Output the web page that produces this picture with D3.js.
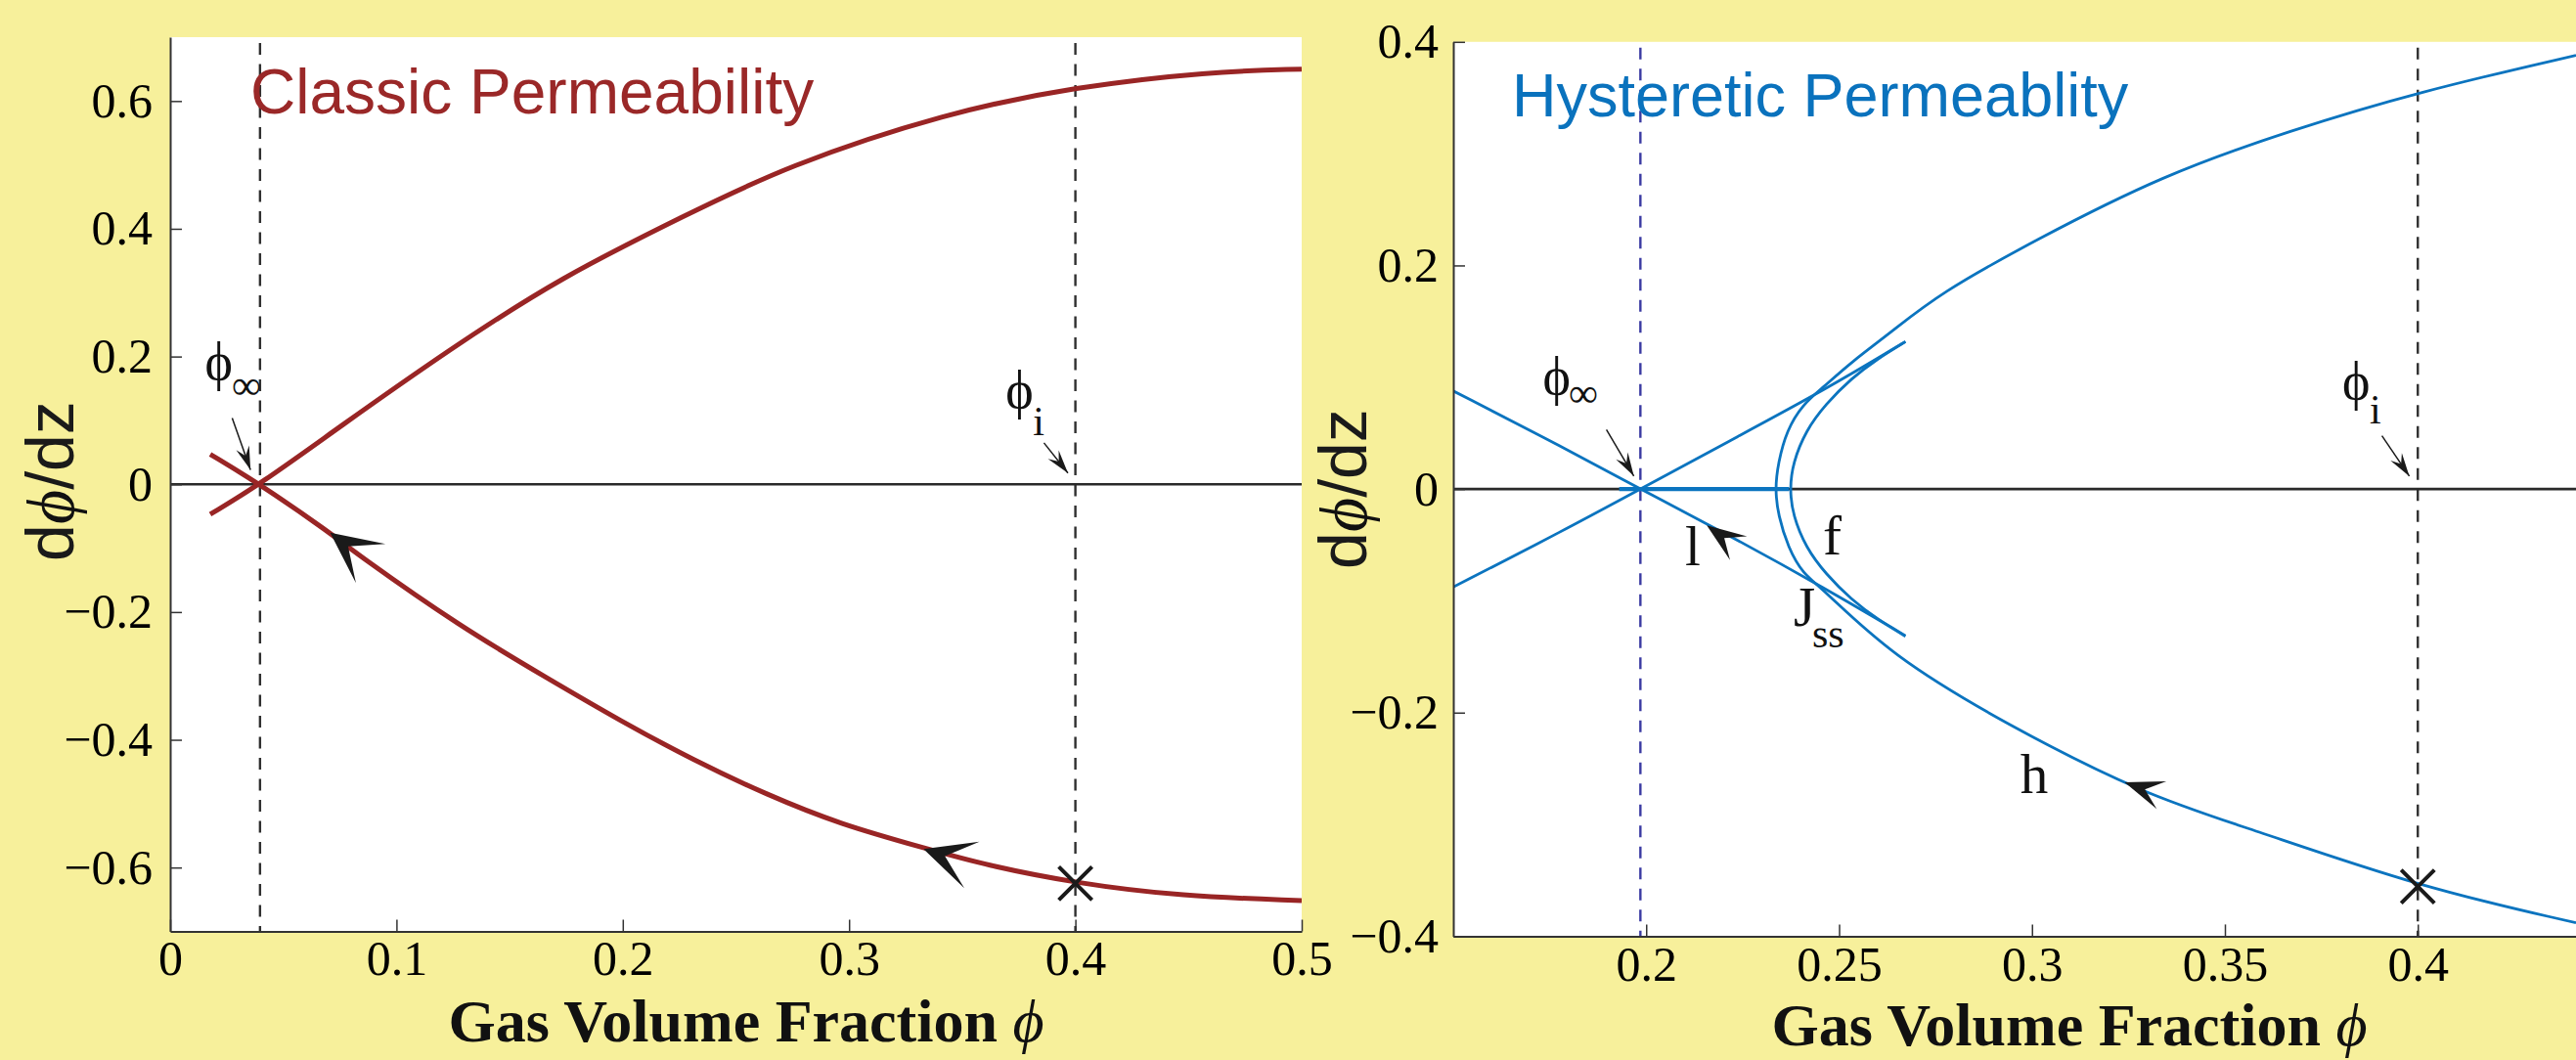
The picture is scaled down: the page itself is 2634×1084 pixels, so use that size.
<!DOCTYPE html>
<html>
<head>
<meta charset="utf-8">
<script src="https://cdn.jsdelivr.net/npm/d3@7"></script>
<style>
  html, body { margin: 0; padding: 0; background: #f7f09b; }
  svg { display: block; }
  .tick text { font-family: "Liberation Serif", "Times New Roman", serif; font-size: 50px; fill: #000; }
  .domain { stroke: #333; stroke-width: 2; }
  .tick line { stroke: #333; stroke-width: 1.5; }
  .serif { font-family: "Liberation Serif", "Times New Roman", serif; fill: #111; }
  .sans { font-family: "Liberation Sans", Arial, sans-serif; }
</style>
</head>
<body>
<svg id="chart" width="2634" height="1084"></svg>
<script>
// ---------- classic permeability (left) ----------
const classicXTicks = [0, 0.1, 0.2, 0.3, 0.4, 0.5];
const classicYTicks = [-0.6, -0.4, -0.2, 0, 0.2, 0.4, 0.6];

// [phi, dphi/dz]
const classicUpper = [
  [0.0177, -0.047], [0.0397, 0], [0.0737, 0.087], [0.1233, 0.211], [0.173, 0.325],
  [0.2274, 0.4206], [0.272, 0.498], [0.3432, 0.582], [0.4002, 0.6223], [0.459, 0.646], [0.5, 0.650]
];
const classicLower = [
  [0.0177, 0.047], [0.0397, 0], [0.0707, -0.0759], [0.0823, -0.1087], [0.1286, -0.2237],
  [0.1669, -0.304], [0.1991, -0.3707], [0.2314, -0.4322], [0.2637, -0.486], [0.2959, -0.5322],
  [0.3346, -0.5707], [0.3604, -0.5963], [0.4002, -0.6245], [0.4465, -0.645], [0.5, -0.6516]
];
const classicGuides = [0.0397, 0.4];
const classicStart = [[0.4, -0.6247]];
const classicFlow = [
  { tip: [0.0707, -0.0759], back: [0.0799, -0.1006] },
  { tip: [0.3329, -0.571], back: [0.3424, -0.582] }
];
const classicPointers = [
  [[0.0274, 0.1036], [0.0355, 0.0227]],
  [[0.3861, 0.0649], [0.3967, 0.0176]]
];
const classicLabels = [
  ['\u03D5', 0.0153, 0.164, 'main'], ['\u221E', 0.0272, 0.134, 'sub'],
  ['\u03D5', 0.3692, 0.1204, 'main'], ['i', 0.3813, 0.0774, 'sub']
];

// ---------- hysteretic permeability (right) ----------
const hystXTicks = [0.2, 0.25, 0.3, 0.35, 0.4];
const hystYTicks = [-0.4, -0.2, 0, 0.2, 0.4];

const hystFalling = [
  [0.15, 0.0877], [0.1789, 0.0365], [0.1985, 0], [0.2212, -0.0408], [0.2465, -0.089], [0.2672, -0.1312]
];
const hystRising = [
  [0.15, -0.0877], [0.1789, -0.0365], [0.1985, 0], [0.2212, 0.0423], [0.2465, 0.089], [0.2672, 0.1318]
];
const hystFlat = [[0.193, 0], [0.237, 0]];
const hystOuter = [
  [0.441, 0.388], [0.4, 0.3552], [0.367, 0.3208], [0.334, 0.281], [0.3008, 0.2226], [0.276, 0.175],
  [0.2634, 0.14], [0.2532, 0.1137], [0.2457, 0.0904], [0.2406, 0.0758], [0.2364, 0.0525], [0.2342, 0.0233],
  [0.2334, 0], [0.2342, -0.0233], [0.2368, -0.0525], [0.2406, -0.0758], [0.2457, -0.089], [0.2634, -0.1487],
  [0.293, -0.21], [0.3295, -0.274], [0.356, -0.303], [0.4, -0.3556], [0.441, -0.388]
];
const hystInner = [
  [0.2672, 0.1318], [0.26, 0.1166], [0.2532, 0.0991], [0.2465, 0.0758], [0.2414, 0.0525], [0.238, 0.0233],
  [0.2372, 0], [0.238, -0.0233], [0.2414, -0.0525], [0.2465, -0.0758], [0.2532, -0.0991], [0.26, -0.1166],
  [0.2672, -0.1318]
];
const hystGuides = [0.1985, 0.4];
const hystStart = [[0.4, -0.3556]];
const hystFlow = [
  { tip: [0.2157, -0.0326], back: [0.2208, -0.0452] },
  { tip: [0.324, -0.2623], back: [0.3295, -0.2689] }
];
const hystPointers = [
  [[0.1897, 0.0531], [0.1968, 0.0116]],
  [[0.3907, 0.0477], [0.3978, 0.0115]]
];
const hystLabels = [
  ['\u03D5', 0.1732, 0.085, 'main'], ['\u221E', 0.1799, 0.0736, 'sub'],
  ['\u03D5', 0.3804, 0.0806, 'main'], ['i', 0.3875, 0.0587, 'sub'],
  ['l', 0.2121, -0.0685, 'branch'], ['f', 0.2482, -0.0584, 'branch'],
  ['J', 0.241, -0.1225, 'branch'], ['ss', 0.243, -0.1415, 'sub'],
  ['h', 0.3006, -0.2721, 'branch']
];

// ---------- drawing ----------
const svg = d3.select('#chart');
const defs = svg.append('defs');
const fmt = d => (d < 0 ? '\u2212' : '') + Math.abs(d);

function arrowHead(sel, tip, back, len, half, notch) {
  const dx = back[0] - tip[0], dy = back[1] - tip[1];
  const n = Math.hypot(dx, dy);
  const ux = dx / n, uy = dy / n, px = -uy, py = ux;
  const pts = [
    tip,
    [tip[0] + ux * len + px * half, tip[1] + uy * len + py * half],
    [tip[0] + ux * notch, tip[1] + uy * notch],
    [tip[0] + ux * len - px * half, tip[1] + uy * len - py * half]
  ];
  sel.append('path')
    .attr('d', 'M' + pts.map(p => p.join(',')).join('L') + 'Z')
    .attr('fill', '#1a1a1a');
}

function drawPanel(p) {
  const x = d3.scaleLinear().domain(p.xDomain).range([p.left, p.right]);
  const y = d3.scaleLinear().domain(p.yDomain).range([p.bottom, p.top]);
  const g = svg.append('g');

  defs.append('clipPath').attr('id', 'clip-' + p.id)
    .append('rect')
    .attr('x', p.left).attr('y', p.top)
    .attr('width', p.right - p.left).attr('height', p.bottom - p.top);

  g.append('rect')
    .attr('x', p.left).attr('y', p.top)
    .attr('width', p.right - p.left).attr('height', p.bottom - p.top)
    .attr('fill', '#fff');

  const plot = g.append('g').attr('clip-path', `url(#clip-${p.id})`);

  // dashed guides
  plot.selectAll('.guide')
    .data(p.guides)
    .join('line')
    .attr('x1', d => x(d)).attr('x2', d => x(d))
    .attr('y1', p.top + 6).attr('y2', p.bottom)
    .attr('stroke', (d, i) => p.guideColors[i])
    .attr('stroke-width', 2.4)
    .attr('stroke-dasharray', '12,9.5');

  // zero line
  plot.append('line')
    .attr('x1', p.left).attr('x2', p.right)
    .attr('y1', y(0)).attr('y2', y(0))
    .attr('stroke', '#2a2a2a').attr('stroke-width', 2.6);

  // basis spline smooths out reading noise in the sampled points
  const line = d3.line()
    .x(d => x(d[0])).y(d => y(d[1]))
    .curve(d3.curveBasis);

  plot.selectAll('.curve')
    .data(p.curves)
    .join('path')
    .attr('d', line)
    .attr('fill', 'none')
    .attr('stroke', p.color)
    .attr('stroke-width', p.curveWidth)
    .attr('stroke-linejoin', 'round');

  if (p.flat) {
    plot.append('path')
      .attr('d', d3.line().x(d => x(d[0])).y(d => y(d[1]))(p.flat))
      .attr('stroke', p.color).attr('stroke-width', 4.2);
  }

  // start markers
  const s = 17;
  p.starts.forEach(d => {
    const cx = x(d[0]), cy = y(d[1]);
    plot.append('path')
      .attr('d', `M${cx - s},${cy - s}L${cx + s},${cy + s}M${cx - s},${cy + s}L${cx + s},${cy - s}`)
      .attr('stroke', '#1a1a1a').attr('stroke-width', 4);
  });

  // flow arrows
  p.flow.forEach(a => {
    arrowHead(plot, [x(a.tip[0]), y(a.tip[1])], [x(a.back[0]), y(a.back[1])],
      p.arrow[0], p.arrow[1], p.arrow[2]);
  });

  // pointer arrows
  p.pointers.forEach(([from, to]) => {
    const f = [x(from[0]), y(from[1])], t = [x(to[0]), y(to[1])];
    plot.append('line')
      .attr('x1', f[0]).attr('y1', f[1]).attr('x2', t[0]).attr('y2', t[1])
      .attr('stroke', '#1a1a1a').attr('stroke-width', 1.5);
    arrowHead(plot, t, f, 24, 7, 15);
  });

  // text labels
  const sizes = { main: 54, sub: 42, branch: 57 };
  p.labels.forEach(([txt, lx, ly, kind]) => {
    g.append('text')
      .attr('class', 'serif')
      .attr('x', x(lx)).attr('y', y(ly))
      .attr('font-size', sizes[kind])
      .attr('text-anchor', kind === 'branch' ? 'middle' : 'start')
      .text(txt);
  });

  // axes
  g.append('g')
    .attr('transform', `translate(0,${p.bottom})`)
    .call(d3.axisBottom(x).tickValues(p.xTicks).tickSize(-12).tickSizeOuter(0)
      .tickPadding(p.xPad).tickFormat(fmt));
  g.append('g')
    .attr('transform', `translate(${p.left},0)`)
    .call(d3.axisLeft(y).tickValues(p.yTicks).tickSize(-12).tickSizeOuter(0)
      .tickPadding(p.yPad).tickFormat(fmt));

  // title inside plot
  g.append('text')
    .attr('class', 'sans')
    .attr('x', p.titlePos[0]).attr('y', p.titlePos[1])
    .attr('font-size', p.titleSize)
    .attr('fill', p.titleColor)
    .text(p.title);

  // axis titles
  const xt = g.append('text')
    .attr('class', 'serif')
    .attr('x', p.xTitlePos[0]).attr('y', p.xTitlePos[1])
    .attr('text-anchor', 'middle')
    .attr('font-size', 62)
    .attr('font-weight', 'bold')
    .attr('fill', '#000');
  xt.append('tspan').text('Gas Volume Fraction ');
  xt.append('tspan').attr('font-style', 'italic').attr('font-weight', 'normal').text('\u03D5');

  const yt = g.append('text')
    .attr('class', 'sans')
    .attr('transform', `translate(${p.yTitlePos[0]},${p.yTitlePos[1]}) rotate(-90)`)
    .attr('text-anchor', 'middle')
    .attr('font-size', 68)
    .attr('fill', '#1a1a1a');
  yt.append('tspan').text('d');
  yt.append('tspan').attr('class', 'serif').attr('font-style', 'italic').text('\u03D5');
  yt.append('tspan').text('/dz');
}

drawPanel({
  id: 'classic',
  xDomain: [0, 0.5], yDomain: [-0.7, 0.7],
  left: 174, right: 1331, top: 38, bottom: 952.5,
  xTicks: classicXTicks, yTicks: classicYTicks, xPad: 9, yPad: 18,
  guides: classicGuides, guideColors: ['#2f2f2f', '#2f2f2f'],
  curves: [classicUpper, classicLower],
  color: '#992525', curveWidth: 5,
  starts: classicStart, flow: classicFlow, arrow: [52, 25, 23],
  pointers: classicPointers, labels: classicLabels,
  title: 'Classic Permeability', titlePos: [256, 115.7], titleSize: 64, titleColor: '#9a2828',
  xTitlePos: [763, 1065], yTitlePos: [75, 492]
});

drawPanel({
  id: 'hyst',
  xDomain: [0.15, 0.45], yDomain: [-0.4, 0.4],
  left: 1486, right: 2669.5, top: 42.8, bottom: 957.4,
  xTicks: hystXTicks, yTicks: hystYTicks, xPad: 10, yPad: 15,
  guides: hystGuides, guideColors: ['#3a3aa2', '#2f2f2f'],
  curves: [hystFalling, hystRising, hystOuter, hystInner],
  flat: hystFlat,
  color: '#0b74bf', curveWidth: 2.8,
  starts: hystStart, flow: hystFlow, arrow: [40, 15, 22],
  pointers: hystPointers, labels: hystLabels,
  title: 'Hysteretic Permeablity', titlePos: [1546, 119.3], titleSize: 63, titleColor: '#0a72bd',
  xTitlePos: [2116, 1069], yTitlePos: [1397, 500]
});
</script>
</body>
</html>
